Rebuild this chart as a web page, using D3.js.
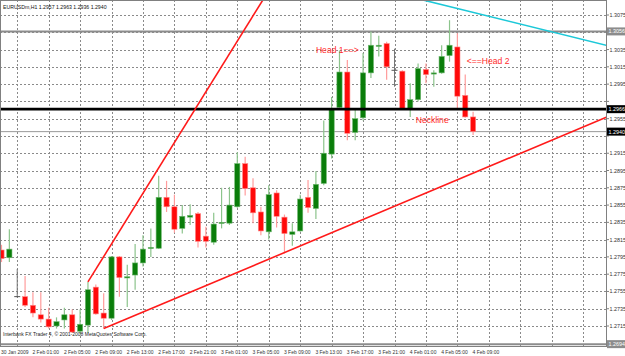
<!DOCTYPE html>
<html>
<head>
<meta charset="utf-8">
<script src="https://cdn.jsdelivr.net/npm/d3@7"></script>
<style>
body { margin: 0; background: #fff; }
svg { display: block; font-family: "Liberation Sans", Arial, sans-serif; }
</style>
</head>
<body>
<svg width="625" height="356"></svg>
<script>
// EURUSDm H1, one value per bar (bar 0 = 30 Jan 21:00)
var opens = [1.2803,1.2794,1.2749,1.2749,1.2739,1.2728,1.2723,1.2715,1.2722,1.2728,
	1.2709,1.2716,1.2760,1.2730,1.2724,1.2795,1.2771,1.2774,1.2788,1.2805,
	1.2805,1.2864,1.2853,1.2828,1.2841,1.2845,1.2819,1.2812,1.2834,1.2834,
	1.2853,1.2903,1.2875,1.2847,1.2824,1.2869,1.2841,1.2821,1.2825,1.2864,
	1.2851,1.2880,1.2914,1.2968,1.3009,1.2939,1.2956,1.3008,1.3039,1.3042,
	1.3011,1.3010,1.2967,1.2977,1.3012,1.3007,1.3008,1.3028,1.3038,1.2982,1.2957];
var highs = [1.2809,1.2827,1.2781,1.2773,1.2754,1.2754,1.2736,1.2725,1.2736,1.2734,
	1.2734,1.2766,1.2763,1.2753,1.2796,1.2796,1.2786,1.2810,1.2820,1.2828,
	1.2889,1.2883,1.2867,1.2855,1.2856,1.2847,1.2830,1.2846,1.2875,1.2876,
	1.2916,1.2911,1.2886,1.2853,1.2878,1.2872,1.2844,1.2834,1.2867,1.2884,
	1.2894,1.2953,1.2980,1.3034,1.3023,1.2965,1.3031,1.3056,1.3051,1.3044,
	1.3036,1.3011,1.2996,1.3019,1.3019,1.3011,1.3040,1.3069,1.3054,1.3006,1.2963];
var lows = [1.2789,1.2789,1.2748,1.2737,1.2725,1.2719,1.2712,1.2712,1.2712,1.2707,
	1.2706,1.2707,1.2728,1.2712,1.2722,1.2749,1.2737,1.2757,1.2784,1.2795,
	1.2804,1.2847,1.2823,1.2822,1.2832,1.2806,1.2806,1.2809,1.2828,1.2832,
	1.2852,1.2866,1.2834,1.2820,1.2815,1.2829,1.2799,1.2808,1.2824,1.2846,
	1.2839,1.2878,1.2909,1.2965,1.2930,1.2930,1.2953,1.3002,1.3027,1.3000,
	1.2992,1.2965,1.2957,1.2975,1.2996,1.2992,1.3007,1.3021,1.2967,1.2956,1.2936];
var closes = [1.2793,1.2804,1.2749,1.2739,1.2730,1.2723,1.2714,1.2720,1.2728,1.2708,
	1.2717,1.2757,1.2729,1.2724,1.2795,1.2771,1.2772,1.2788,1.2804,1.2806,
	1.2864,1.2853,1.2827,1.2842,1.2843,1.2813,1.2813,1.2833,1.2835,1.2855,
	1.2903,1.2874,1.2846,1.2825,1.2867,1.2842,1.2822,1.2824,1.2862,1.2852,
	1.2879,1.2915,1.2967,1.3009,1.2938,1.2955,1.3008,1.3040,1.3040,1.3015,
	1.3011,1.2966,1.2977,1.3013,1.3006,1.3008,1.3027,1.3040,1.2981,1.2957,1.2940];

var priceTicks = [1.3075,1.3055,1.3035,1.3015,1.2995,1.2975,1.2955,1.2935,1.2915,1.2895,
	1.2875,1.2855,1.2835,1.2815,1.2795,1.2775,1.2755,1.2735,1.2715];
var timeLabels = ["30 Jan 2009","2 Feb 01:00","2 Feb 05:00","2 Feb 09:00","2 Feb 13:00",
	"2 Feb 17:00","2 Feb 21:00","3 Feb 01:00","3 Feb 05:00","3 Feb 09:00","3 Feb 13:00",
	"3 Feb 17:00","3 Feb 21:00","4 Feb 01:00","4 Feb 05:00","4 Feb 09:00"];
var timeLabelBars = [0,4,8,12,16,20,24,28,32,36,40,44,48,52,56,60];

// drawn objects: [bar, price] anchors
var upperTrend = [[11, 1.2766], [20, 1.2898]];
var lowerTrend = [[13, 1.2712], [36, 1.2800]];
var cyanTrend = [[56, 1.3087], [72, 1.3051]];
var necklinePrice = 1.2966;
var resistPrice = 1.3056;
var supportPrice = 1.2694;
var bidPrice = 1.2940;

var noteTexts = ["Head 1==>", "<==Head 2", "Neckline"];
var noteBars = [40, 59.2, 52.7];
var notePrices = [1.3031, 1.3018, 1.2950];

var plotRight = 606, plotBottom = 346;

var svg = d3.select("svg");

var x = d3.scaleLinear().domain([0, 60]).range([1.5, 473.1]);
var y = d3.scaleLinear().domain([1.2715, 1.3075]).range([326, 15]);

svg.append("defs").append("clipPath").attr("id", "plot")
	.append("rect").attr("x", 0).attr("y", 0).attr("width", plotRight).attr("height", plotBottom);

var plot = svg.append("g").attr("clip-path", "url(#plot)");

// grid (dotted)
priceTicks.forEach(function(p) {
	plot.append("line")
		.attr("x1", 0).attr("x2", plotRight)
		.attr("y1", Math.round(y(p)) + 0.5).attr("y2", Math.round(y(p)) + 0.5)
		.attr("stroke", "#8a8a8a").attr("stroke-dasharray", "2,2");
});
d3.range(2, 80, 4).forEach(function(b) {
	plot.append("line")
		.attr("x1", Math.round(x(b)) + 0.5).attr("x2", Math.round(x(b)) + 0.5)
		.attr("y1", 0).attr("y2", plotBottom)
		.attr("stroke", "#8a8a8a").attr("stroke-dasharray", "2,2");
});

// horizontal line objects
function hline(price, color, width) {
	plot.append("line")
		.attr("x1", 0).attr("x2", plotRight)
		.attr("y1", y(price)).attr("y2", y(price))
		.attr("stroke", color).attr("stroke-width", width);
}
hline(resistPrice, "#8c8c8c", 2);
hline(supportPrice, "#8c8c8c", 2);
hline(bidPrice, "#9a9a9a", 1);

// candles
function drawCandle(i) {
	var o = opens[i], c = closes[i];
	var cx = x(i);
	var up = c > o;
	if (o == c) {
		plot.append("line").attr("x1", cx).attr("x2", cx)
			.attr("y1", y(highs[i])).attr("y2", y(lows[i]))
			.attr("stroke", "#777");
		plot.append("line").attr("x1", cx - 3).attr("x2", cx + 3)
			.attr("y1", y(o)).attr("y2", y(o))
			.attr("stroke", "#555");
		return;
	}
	plot.append("line").attr("x1", cx).attr("x2", cx)
		.attr("y1", y(highs[i])).attr("y2", y(lows[i]))
		.attr("stroke", up ? "#8cc48c" : "#ff9c9c").attr("stroke-width", 1.2);
	var bodyTop = y(Math.max(o, c)), bodyBot = y(Math.min(o, c));
	plot.append("rect")
		.attr("x", cx - 2.6).attr("y", bodyTop)
		.attr("width", 5.2).attr("height", Math.max(1.2, bodyBot - bodyTop))
		.attr("fill", up ? "#0a7d0a" : "#ff0a0a")
		.attr("stroke", up ? "#6fb86f" : "#ff8a8a").attr("stroke-width", 0.6);
}
for (var i = 0; i < opens.length; i++) drawCandle(i);

// neckline (thick black)
hline(necklinePrice, "#000", 2.6);

// trend lines
function trend(anchors, color, fromBar, toBar) {
	var a = anchors[0], b = anchors[1];
	var slope = (b[1] - a[1]) / (b[0] - a[0]);
	plot.append("line")
		.attr("x1", x(fromBar)).attr("y1", y(a[1] + slope * (fromBar - a[0])))
		.attr("x2", x(toBar)).attr("y2", y(a[1] + slope * (toBar - a[0])))
		.attr("stroke", color).attr("stroke-width", 1.6);
}
trend(upperTrend, "#ff1a1a", upperTrend[0][0], 120);
trend(lowerTrend, "#ff1a1a", lowerTrend[0][0], 120);
trend(cyanTrend, "#1cc8d8", 20, 120);

// notes
for (var k = 0; k < noteTexts.length; k++) {
	plot.append("text")
		.attr("x", x(noteBars[k])).attr("y", y(notePrices[k]))
		.attr("font-size", "8.6px").attr("fill", "#ff2b2b")
		.text(noteTexts[k]);
}

// frame
svg.append("rect").attr("x", 0.5).attr("y", 0.5)
	.attr("width", plotRight).attr("height", plotBottom)
	.attr("fill", "none").attr("stroke", "#808080");

// header + copyright
svg.append("text").attr("x", 3).attr("y", 9)
	.attr("font-size", "5.2px").attr("fill", "#111")
	.text("EURUSDm,H1  1.2957 1.2963 1.2936 1.2940");
svg.append("text").attr("x", 3).attr("y", 336)
	.attr("font-size", "5px").attr("fill", "#222")
	.text("Interbank FX Trader 4, \u00a9 2001-2008 MetaQuotes Software Corp.");

// price axis; ticks hidden where a price box sits
var boxPrices = [resistPrice, supportPrice, necklinePrice, bidPrice];
var axisG = svg.append("g");
priceTicks.forEach(function(p) {
	axisG.append("line").attr("x1", plotRight).attr("x2", plotRight + 3)
		.attr("y1", y(p)).attr("y2", y(p)).attr("stroke", "#808080");
	var covered = boxPrices.some(function(bp) { return Math.abs(y(bp) - y(p)) < 8; });
	if (covered) return;
	axisG.append("text").attr("x", plotRight + 3.5).attr("y", y(p) + 2)
		.attr("font-size", "5.4px").attr("fill", "#333")
		.text(d3.format(".4f")(p));
});

function priceBox(price, bg) {
	axisG.append("rect").attr("x", plotRight + 1).attr("y", y(price) - 4)
		.attr("width", 18).attr("height", 8).attr("fill", bg);
	axisG.append("text").attr("x", plotRight + 2.5).attr("y", y(price) + 2)
		.attr("font-size", "5.4px").attr("fill", "#fff")
		.text(d3.format(".4f")(price));
}
priceBox(resistPrice, "#8c8c8c");
priceBox(supportPrice, "#8c8c8c");
priceBox(necklinePrice, "#000");
priceBox(bidPrice, "#000");

// time axis
timeLabels.forEach(function(t, j) {
	svg.append("text")
		.attr("x", x(timeLabelBars[j]) - 0.5).attr("y", 354)
		.attr("font-size", "5px").attr("fill", "#333")
		.text(t);
});
</script>
</body>
</html>
